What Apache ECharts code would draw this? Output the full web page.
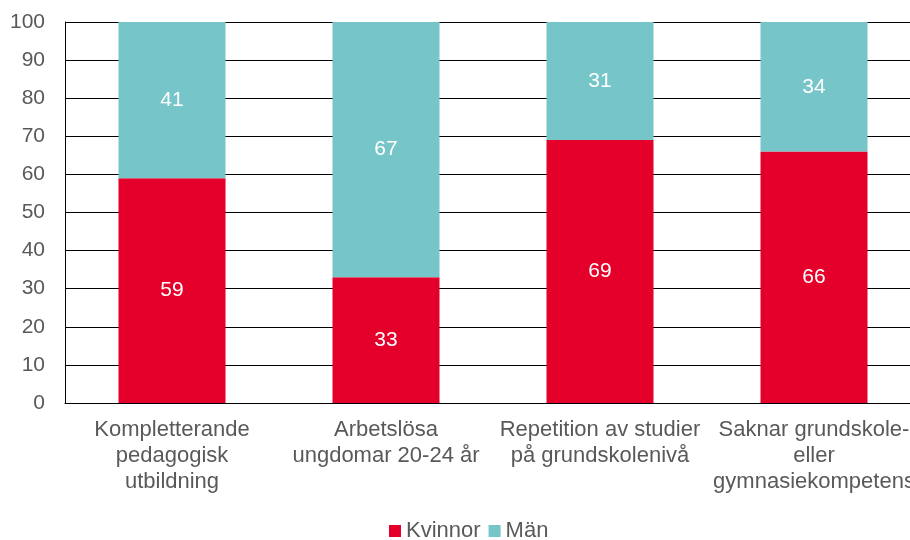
<!DOCTYPE html>
<html>
<head>
<meta charset="utf-8">
<script src="https://cdn.jsdelivr.net/npm/echarts@6/dist/echarts.min.js"></script>
<style>
  html, body { margin: 0; padding: 0; background: #fff; overflow: hidden; }
  #chart { width: 910px; height: 540px; }
</style>
</head>
<body>
<div id="chart"></div>
<script>
const categories = [
  'Kompletterande\npedagogisk\nutbildning',
  'Arbetslösa\nungdomar 20-24 år',
  'Repetition av studier\npå grundskolenivå',
  'Saknar grundskole-\neller\ngymnasiekompetens'
]
const kvinnor = [59, 33, 69, 66]
const man = [41, 67, 31, 34]

const chart = echarts.init(document.getElementById('chart'))
const font = 'Liberation Sans, Arial, sans-serif'
const label = {
  show: true,
  position: 'inside',
  color: '#fff',
  fontSize: 21,
  fontFamily: font
}
chart.setOption({
  animation: false,
  grid: {
    left: 65,
    width: 856,
    top: 22,
    height: 381,
    containLabel: false,
    outerBoundsMode: 'none'
  },
  legend: {
    left: 384,
    bottom: -7,
    itemWidth: 12,
    itemHeight: 12,
    itemGap: 8,
    icon: 'rect',
    textStyle: { color: '#595959', fontSize: 22, fontFamily: font },
    data: ['Kvinnor', 'Män']
  },
  xAxis: {
    type: 'category',
    data: categories,
    axisLine: { lineStyle: { color: '#000', width: 1 } },
    axisTick: { show: false },
    axisLabel: {
      interval: 0,
      color: '#595959',
      fontSize: 22,
      fontFamily: font,
      lineHeight: 26,
      margin: 14,
      hideOverlap: false
    }
  },
  yAxis: {
    type: 'value',
    min: 0,
    max: 100,
    interval: 10,
    axisLine: { show: true, lineStyle: { color: '#000', width: 1 } },
    axisTick: { show: false },
    splitLine: { lineStyle: { color: '#000', width: 1 } },
    axisLabel: {
      color: '#595959',
      fontSize: 21,
      fontFamily: font,
      margin: 20
    }
  },
  series: [
    {
      name: 'Kvinnor',
      type: 'bar',
      stack: 'total',
      barWidth: 107,
      data: kvinnor,
      itemStyle: { color: '#E4002B' },
      label: label
    },
    {
      name: 'Män',
      type: 'bar',
      stack: 'total',
      barWidth: 107,
      data: man,
      itemStyle: { color: '#76C5C8' },
      label: label
    }
  ]
})
</script>
</body>
</html>
